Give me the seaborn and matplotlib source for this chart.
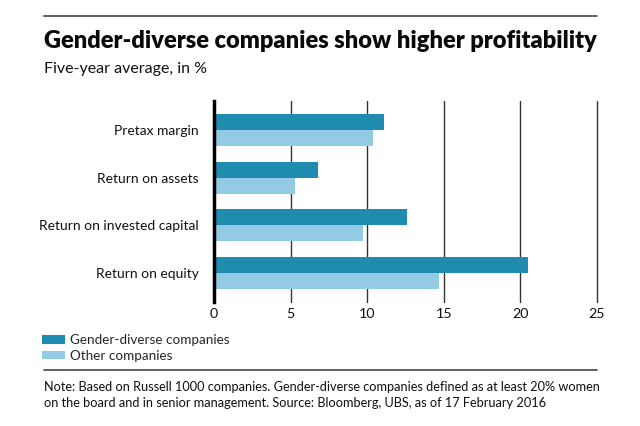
import matplotlib
matplotlib.use("Agg")
import matplotlib.pyplot as plt
import seaborn as sns
import pandas as pd
from matplotlib.patches import Patch
from matplotlib.lines import Line2D

categories = ["Pretax margin", "Return on assets", "Return on invested capital", "Return on equity"]
gender_diverse = [11.1, 6.8, 12.6, 20.5]
other = [10.4, 5.3, 9.7, 14.7]
series_names = ["Gender-diverse companies", "Other companies"]
x_ticks = [0, 5, 10, 15, 20, 25]

title = "Gender-diverse companies show higher profitability"
subtitle = "Five-year average, in %"
note = ("Note: Based on Russell 1000 companies. Gender-diverse companies defined as at least 20% women\n"
        "on the board and in senior management. Source: Bloomberg, UBS, as of 17 February 2016")

dark = "#1f8bb0"
light = "#93cbe5"

df = pd.DataFrame({
    "category": categories * 2,
    "value": gender_diverse + other,
    "series": [series_names[0]] * len(categories) + [series_names[1]] * len(categories),
})

sns.set_theme(style="white")
plt.rcParams["font.family"] = ["Lato", "DejaVu Sans"]

fig = plt.figure(figsize=(6.4, 4.26), dpi=100)
ax = fig.add_axes([214/640, 1 - 302/426, (597-214)/640, (302-101)/426])

sns.barplot(data=df, y="category", x="value", hue="series", orient="h",
            palette=[dark, light], width=0.67, saturation=1, ax=ax,
            order=categories, hue_order=series_names, legend=False, linewidth=0)

ax.set_xlim(0, 25)
ax.set_ylim(3.6, -0.6)
ax.set_xticks(x_ticks)
ax.set_xticklabels([str(t) for t in x_ticks], fontsize=10.3)
ax.set_ylabel("")
ax.set_xlabel("")
ax.tick_params(axis="x", length=0, pad=4, colors="#111111")
ax.tick_params(axis="y", length=0, pad=11, labelsize=10, colors="#111111")
ax.set_axisbelow(True)
ax.grid(False)
for t in x_ticks[1:]:
    ax.axvline(t, color="#333333", lw=1.0, zorder=0, clip_on=False)
for s in ["top", "right", "bottom"]:
    ax.spines[s].set_visible(False)
ax.spines["left"].set_color("black")
ax.spines["left"].set_linewidth(2.5)
ax.spines["left"].set_zorder(5)

# rules
fig.add_artist(Line2D([44/640, 597/640], [1 - 16/426, 1 - 16/426], color="#444444", lw=1.2))
fig.add_artist(Line2D([44/640, 597/640], [1 - 370/426, 1 - 370/426], color="#444444", lw=1.2))

fig.text(44/640, 1 - 48/426, title, fontsize=17.0, fontweight="heavy", ha="left", va="baseline",
         color="#0a0a0a")
fig.text(44/640, 1 - 73/426, subtitle, fontsize=11.5, ha="left", va="baseline", color="#111111")

handles = [Patch(facecolor=dark, edgecolor="none"), Patch(facecolor=light, edgecolor="none")]
fig.legend(handles, series_names, loc="center left", bbox_to_anchor=(42/640, 1 - 348/426),
           frameon=False, fontsize=9.7, handlelength=1.7, handleheight=0.6, handletextpad=0.4,
           labelspacing=0.25, borderaxespad=0, borderpad=0)

fig.text(44/640, 1 - 395/426, note, fontsize=9.2, ha="left", va="center", color="#111111",
         linespacing=1.35)

fig.savefig("out.png", dpi=100, facecolor="white")
